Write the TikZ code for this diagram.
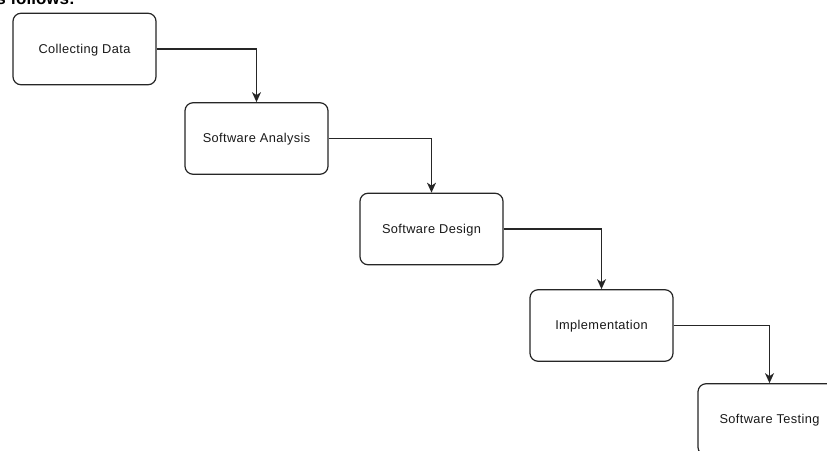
\documentclass[tikz,border=0pt]{standalone}
\usepackage{fontspec}
\setmainfont{Liberation Sans}
\newfontfamily\boxfont[LetterSpace=3]{Liberation Sans}
\usetikzlibrary{arrows.meta}
\begin{document}
\begin{tikzpicture}[x=1pt,y=-1pt,
  stage/.style={draw=black!85,line width=1.2pt,rounded corners=8pt,fill=white,
    minimum width=143pt,minimum height=71.5pt,inner sep=0pt,
    text height=8.8pt,text depth=0pt,
    font=\boxfont\fontsize{12.8}{15}\selectfont,text=black!90},
  flow/.style={draw=black!85,line width=1.3pt,
    -{Stealth[length=10pt,width=9pt,inset=3pt]}}]
\useasboundingbox (0,0) rectangle (827,450);
% heading line above the chart, cut by the page edge
\node[anchor=base east,inner sep=0pt,font=\fontsize{17}{20}\selectfont\bfseries]
  (head) at (75,4.5) {s follows:};
\node[stage] (collect) at (84.5,49) {Collecting Data};
\node[stage] (analysis) at (256.5,138.5) {Software Analysis};
\node[stage] (design) at (431.5,229) {Software Design};
\node[stage] (impl) at (601.5,325.5) {Implementation};
\node[stage] (test) at (769.5,419.5) {Software Testing};
\draw[flow] (collect.east) -| (analysis.north);
\draw[flow] (analysis.east) -| (design.north);
\draw[flow] (design.east) -| (impl.north);
\draw[flow] (impl.east) -| (test.north);
\end{tikzpicture}
\end{document}
